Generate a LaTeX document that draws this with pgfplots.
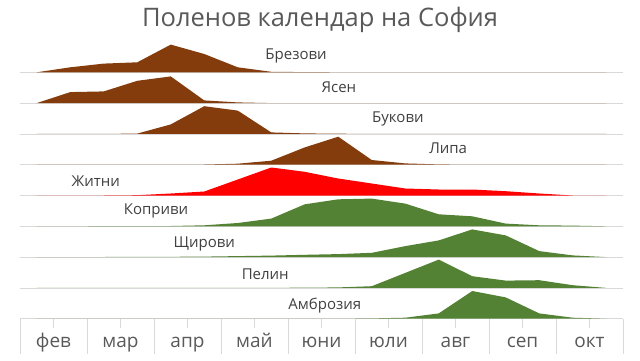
\documentclass[border=0pt]{standalone}
\usepackage{fontspec}
\setmainfont{Open Sans}
\usepackage{pgfplots}
\pgfplotsset{compat=1.18}
\usepackage{pgfplotstable}
\definecolor{brn}{HTML}{843C0C}
\definecolor{grn}{HTML}{548235}
\definecolor{gridc}{HTML}{D9D9D9}
\definecolor{txt}{HTML}{595959}
\definecolor{lbl}{HTML}{404040}

\pgfplotstableread{
x    brez yasen bukovi lipa zhitni kopriv shtir pelin ambr
0.25 0    0     0      0    0      0      0     0     0
0.75 5    11    0      0    0      0      0.1   0     0
1.25 8.7  11.7  0      0    0      0.1    0.1   0     0
1.75 10   22.3  0.3    0    0.3    0.2    0.2   0     0
2.25 27.7 26.7  9.5    0    2      0.3    0.3   0     0
2.75 18.3 2.7   27.7   0.2  4      1      0.5   0     0
3.25 5    0.7   23.3   1.0  16     3.3    1     0.1   0
3.75 0.5  0     1.5    4    28     7.7    1.5   0.1   0
4.25 0.2  0     0.5    17.3 23.7   22     2.3   0.2   0
4.75 0    0     0.2    28   17     27     3     0.5   0.1
5.25 0    0     0      4.7  12     27.7   4.3   1.7   0.3
5.75 0    0     0      1.3  7      22.7   11    15    1
6.25 0    0     0      0.3  6      12     16.7  28.3  5.3
6.75 0    0     0      0    6      10     27.7  11.7  27.7
7.25 0    0     0      0    4.3    2.7    21.7  7.3   21.3
7.75 0    0     0      0    2      1      6     7.7   5.3
8.25 0    0     0      0    0      0.7    1.7   2.7   1
8.75 0    0     0      0    0      0      0     0     0
}\data

\begin{document}
\begin{tikzpicture}
\path[use as bounding box] (-20pt,-41.3pt) rectangle (620pt,318.7pt);
\begin{axis}[
  at={(0pt,0pt)}, anchor=south west,
  scale only axis, width=603pt, height=278.7pt,
  xmin=0, xmax=9, ymin=0, ymax=278.7,
  clip=false,
  axis x line*=bottom, axis y line*=left,
  y axis line style={draw=none},
  x axis line style={draw=gridc, line width=0.8pt},
  ytick={30.8,61.6,92.4,123.2,154,184.8,215.6,246.4},
  yticklabels={},
  ytick style={draw=none},
  ymajorgrids,
  grid style={draw=gridc, line width=0.8pt},
  xtick={0.5,1.5,...,8.5},
  xticklabels={фев,мар,апр,май,юни,юли,авг,сеп,окт},
  xtick style={draw=gridc, line width=0.8pt},
  tick align=outside,
  major tick length=9pt,
  xticklabel style={font=\fontsize{19}{22}\selectfont, text=txt, anchor=base, inner sep=0pt, yshift=-20pt},
  xticklabel shift=0pt,
  extra x ticks={0,1,...,9},
  extra x tick labels={},
  extra x tick style={major tick length=35pt, tick align=outside, grid=none},
]
\addplot[draw=none, fill=brn] table[x=x, y expr=\thisrow{brez}+246.4] {\data} -- cycle;
\addplot[draw=none, fill=brn] table[x=x, y expr=\thisrow{yasen}+215.6] {\data} -- cycle;
\addplot[draw=none, fill=brn] table[x=x, y expr=\thisrow{bukovi}+184.8] {\data} -- cycle;
\addplot[draw=none, fill=brn] table[x=x, y expr=\thisrow{lipa}+154] {\data} -- cycle;
\addplot[draw=none, fill=red] table[x=x, y expr=\thisrow{zhitni}+123.2] {\data} -- cycle;
\addplot[draw=none, fill=grn] table[x=x, y expr=\thisrow{kopriv}+92.4] {\data} -- cycle;
\addplot[draw=none, fill=grn] table[x=x, y expr=\thisrow{shtir}+61.6] {\data} -- cycle;
\addplot[draw=none, fill=grn] table[x=x, y expr=\thisrow{pelin}+30.8] {\data} -- cycle;
\addplot[draw=none, fill=grn] table[x=x, y expr=\thisrow{ambr}+0] {\data} -- cycle;

\begin{scope}[every node/.style={text=lbl, font=\fontsize{15}{18}\selectfont}]
\node at (axis cs:4.12,262.7) {Брезови};
\node at (axis cs:4.76,231) {Ясен};
\node at (axis cs:5.64,199.7) {Букови};
\node at (axis cs:6.39,170.2) {Липа};
\node at (axis cs:1.13,137.9) {Житни};
\node at (axis cs:2.03,107.7) {Коприви};
\node at (axis cs:2.75,74.7) {Щирови};
\node at (axis cs:3.66,44.7) {Пелин};
\node at (axis cs:4.55,12.7) {Амброзия};
\end{scope}
\node[text=txt, font=\fontsize{25.5}{30}\selectfont, anchor=base, inner sep=0pt] at (axis cs:4.478,292) {Поленов календар на София};
\end{axis}
\end{tikzpicture}
\end{document}
